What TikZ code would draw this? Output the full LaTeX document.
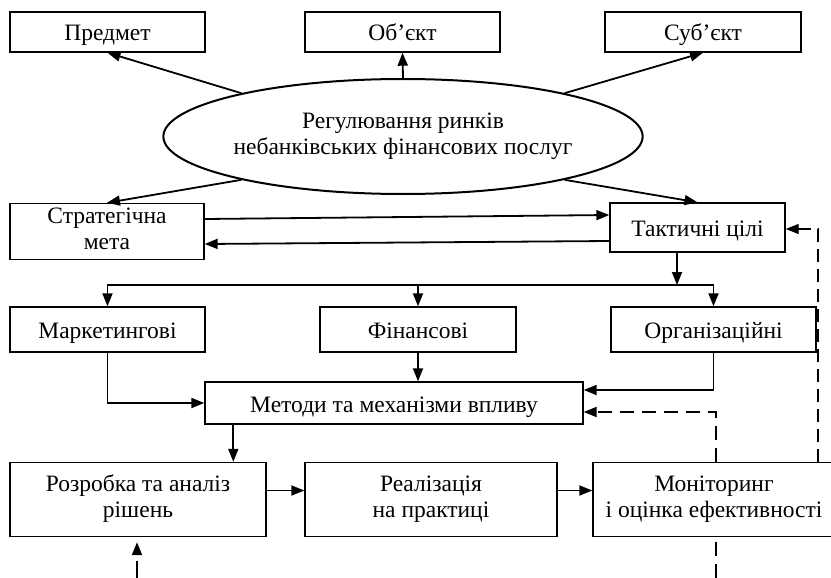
\documentclass[tikz,border=0pt]{standalone}
\usepackage{fontspec}
\setmainfont{Liberation Serif}
\usetikzlibrary{arrows.meta,positioning,calc,shapes.geometric}
\newcommand{\opora}{\rule[-6pt]{0pt}{30pt}}

\begin{document}
\begin{tikzpicture}[x=1pt,y=-1pt,>={Triangle[length=13pt,width=10pt]},
    font=\fontsize{23.5}{26}\selectfont,
    blok/.style={draw,rectangle,inner xsep=2pt,inner ysep=0pt,align=center,line width=1.4pt,
      execute at begin node=\opora,execute at end node=\opora},
    oval/.style={draw,ellipse,align=center,inner sep=0pt,minimum width=440pt,minimum height=115pt,line width=2pt},
    strl/.style={->,line width=1.8pt},
    pun/.style={->,dash pattern=on 14pt off 8pt,line width=1.9pt}]
%
   \useasboundingbox (0,0) rectangle (831,578);
   \clip (0,0) rectangle (831,578);
   \node[blok,minimum width=195pt,minimum height=40pt]  (Pred)  at (107.5,32) {Предмет};
   \node[blok,minimum width=195pt,minimum height=40pt]  (Obj)   at (402.5,32) {Об’єкт};
   \node[blok,minimum width=196pt,minimum height=40pt]  (Subj)  at (703,32)   {Суб’єкт};
   \node[oval]                                          (Reg)   at (403,136.5) {Регулювання ринків\\небанківських фінансових послуг};
   \node[blok,minimum width=194pt,minimum height=56pt]  (Strat) at (107,231.5) {Стратегічна\\мета};
   \node[blok,minimum width=175pt,minimum height=49pt]  (Takt)  at (697.5,227.5) {Тактичні цілі};
   \node[blok,minimum width=195pt,minimum height=45pt]  (Mark)  at (107.5,329.5) {Маркетингові};
   \node[blok,minimum width=196pt,minimum height=45pt]  (Fin)   at (418,329.5) {Фінансові};
   \node[blok,minimum width=205pt,minimum height=45pt]  (Org)   at (713.5,329.5) {Організаційні};
   \node[blok,minimum width=378pt,minimum height=42pt]  (Met)   at (394,403)  {Методи та механізми впливу};
   \node[blok,minimum width=256pt,minimum height=74pt]  (Rozr)  at (138,499.5) {Розробка та аналіз\\рішень};
   \node[blok,minimum width=252pt,minimum height=74pt]  (Real)  at (431,499.5) {Реалізація\\на практиці};
   \node[blok,minimum width=242pt,minimum height=74pt]  (Mon)   at (714,499.5) {Моніторинг\\і оцінка ефективності};
%
   \coordinate (Shina) at (677,285);
   \coordinate (MR)    at ($(Met.south west)+(29,0)$);
   \coordinate (Niz1)  at (137,580);
   \coordinate (Niz2)  at (716,580);
%
   \draw[strl] (Reg.165) -- (Pred.south);
   \draw[strl] (Reg.north) -- (Obj.south);
   \draw[strl] (Reg.15) -- (Subj.south);
   \draw[strl] (Reg.195) -- (Strat.north);
   \draw[strl] (Reg.345) -- (Takt.north);
   \draw[strl] ($(Strat.east)+(0,-12.5)$) -- ($(Takt.west)+(0,-12.5)$);
   \draw[strl] ($(Takt.west)+(0,13.5)$) -- ($(Strat.east)+(0,12.5)$);
   \draw[strl] ($(Takt.south)+(-20.5,0)$) -- (Shina);
   \draw[strl] (Shina) -| (Mark.north);
   \draw[strl] (Shina) -| (Org.north);
   \draw[strl] (Fin.north |- Shina) -- (Fin.north);
   \draw[strl] (Fin.south) -- (Fin.south |- Met.north);
   \draw[strl] (Mark.south) |- (Met.west);
   \draw[strl] (Org.south) |- ($(Met.east)+(0,-13)$);
   \draw[strl] (MR) -- (MR |- Rozr.north);
   \draw[strl] ($(Rozr.east)+(0,-9)$) -- ($(Real.west)+(0,-9)$);
   \draw[strl] ($(Real.east)+(0,-9)$) -- ($(Mon.west)+(0,-9)$);
%
   \draw[pun] ($(Mon.north)+(2,0)$) |- ($(Met.east)+(0,9)$);
   \draw[pun,line width=1.2pt,dash pattern=on 13pt off 7pt] ($(Mon.north)+(104,0)$) |- ($(Takt.east)+(0,1.5)$);
   \draw[pun,dash pattern=on 19pt off 7pt] (Niz1) -- ($(Rozr.south)+(-1,5)$);
   \draw[pun,-] ($(Mon.south)+(2,5)$) -- (Niz2);
\end{tikzpicture}
\end{document}
